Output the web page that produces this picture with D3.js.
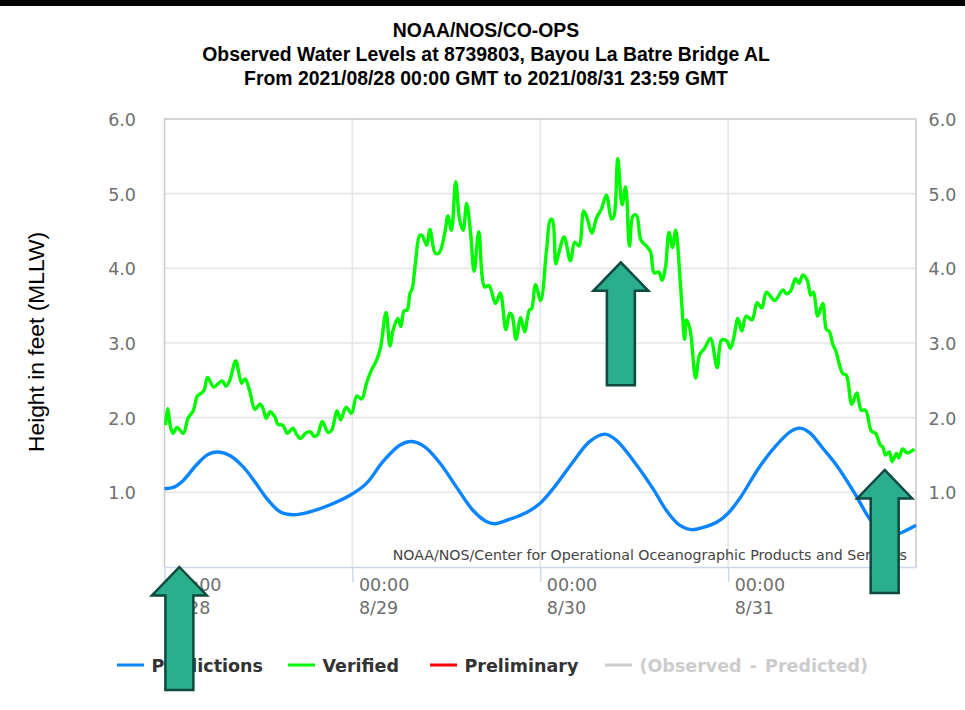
<!DOCTYPE html>
<html lang="en">
  <head>
    <meta charset="UTF-8" />
    <title>Observed Water Levels at 8739803, Bayou La Batre Bridge AL</title>
    <style>
      html, body { margin: 0; background: #fff; overflow: hidden; }
      svg { display: block; }
      .title { font: bold 19.4px 'Liberation Sans', sans-serif; fill: #000; text-anchor: middle; }
      .ylabel { font: 22.8px 'Liberation Sans', sans-serif; fill: #000; text-anchor: middle; }
      .tick text { font: 17.5px 'DejaVu Sans', sans-serif; fill: #6e6e6e; }
      .credit { font: 14.2px 'DejaVu Sans', sans-serif; fill: #444; text-anchor: end; }
      .legend text { font: bold 17.5px 'DejaVu Sans', sans-serif; fill: #333; }
    </style>
  </head>
  <body>
    <svg width="965" height="710"></svg>
    <script src="https://d3js.org/d3.v7.min.js"></script>
    <script>
      const titleLines = [
        'NOAA/NOS/CO-OPS',
        'Observed Water Levels at 8739803, Bayou La Batre Bridge AL',
        'From 2021/08/28 00:00 GMT to 2021/08/31 23:59 GMT'
      ];

      // hours since 8/28 00:00, water level in feet
      const predictedHours = [0, 1.2, 2.4, 4.1, 5.6, 6.9, 8.4, 10.05, 11.55, 13.05, 14.75, 16.45, 18.6, 21.1, 23.7, 25.8, 27.9, 30.05, 31.55, 33.25, 35.2, 37.3, 39.4, 41.1, 42.2, 44.1, 46.25, 47.95, 49.65, 52.2, 54.3, 56.25, 57.7, 59.85, 62.4, 64.1, 65.8, 67.3, 68.8, 70.7, 72, 73.5, 76, 78.15, 80.05, 81.15, 82.4, 84.1, 85.8, 88.15, 90.05, 91.35, 92.6, 93.9, 96];
      const predictedFeet = [1.05, 1.07, 1.16, 1.37, 1.51, 1.54, 1.49, 1.34, 1.14, 0.92, 0.74, 0.7, 0.74, 0.83, 0.96, 1.12, 1.41, 1.63, 1.68, 1.61, 1.39, 1.07, 0.76, 0.61, 0.58, 0.64, 0.73, 0.85, 1.05, 1.41, 1.68, 1.78, 1.7, 1.43, 1.05, 0.76, 0.56, 0.5, 0.53, 0.61, 0.72, 0.92, 1.34, 1.63, 1.82, 1.86, 1.8, 1.59, 1.37, 0.99, 0.65, 0.5, 0.41, 0.45, 0.56];

      const verifiedHours = [0.15, 0.4, 0.8, 1.1, 1.6, 2.4, 3, 3.7, 4.2, 4.75, 5.1, 5.5, 6.3, 6.9, 7.4, 7.85, 8.3, 9.1, 9.85, 10.3, 10.9, 11.55, 12.2, 12.6, 13, 13.5, 14.1, 14.5, 15.1, 15.7, 16.4, 16.9, 17.4, 18, 18.65, 19.1, 19.55, 20.15, 20.9, 21.35, 22.05, 22.5, 23.2, 23.9, 24.55, 25.2, 25.8, 26.45, 27.1, 27.6, 28.3, 28.8, 29.2, 29.8, 30.2, 30.6, 31, 31.35, 31.65, 32, 32.6, 32.9, 33.5, 33.9, 34.6, 35.1, 35.8, 36.2, 36.65, 37.2, 37.7, 38.15, 38.6, 39.1, 39.55, 40.15, 40.9, 41.45, 42.3, 42.9, 43.6, 44.1, 44.4, 44.9, 45.5, 46, 46.6, 46.9, 47.4, 48.05, 48.8, 49.3, 49.55, 50, 50.4, 51.05, 51.85, 52.4, 52.95, 53.55, 54, 54.6, 55.2, 55.8, 56.45, 57.1, 57.4, 57.9, 58.45, 58.9, 59.4, 59.85, 60.3, 60.85, 61.55, 62.1, 62.55, 63.15, 63.55, 64, 64.45, 64.9, 65.3, 65.9, 66.45, 66.65, 67.1, 67.85, 68.35, 69, 69.75, 70.6, 71.15, 71.8, 72.3, 72.7, 73.25, 73.75, 74.3, 75.05, 75.7, 76.3, 76.9, 77.95, 79, 79.45, 79.95, 80.6, 81.05, 81.55, 82.1, 82.55, 82.9, 83.45, 84.1, 84.55, 84.9, 85.4, 85.7, 86.65, 87.1, 87.8, 88.45, 89, 89.55, 90.3, 90.85, 91.45, 91.75, 92.1, 92.6, 92.95, 93.5, 93.8, 94.3, 94.85, 95.25, 95.8];
      const verifiedFeet = [1.9, 2.12, 1.86, 1.79, 1.87, 1.79, 1.99, 2.1, 2.29, 2.33, 2.38, 2.54, 2.41, 2.46, 2.49, 2.42, 2.49, 2.76, 2.46, 2.52, 2.35, 2.11, 2.18, 2.12, 1.99, 2.08, 2.01, 1.91, 1.9, 1.79, 1.86, 1.77, 1.72, 1.79, 1.81, 1.75, 1.77, 1.95, 1.8, 1.83, 2.09, 1.97, 2.14, 2.06, 2.29, 2.25, 2.46, 2.64, 2.77, 2.94, 3.41, 2.96, 3.17, 3.33, 3.22, 3.43, 3.44, 3.66, 3.73, 4.02, 4.44, 4.44, 4.31, 4.52, 4.2, 4.21, 4.47, 4.7, 4.51, 5.16, 4.65, 4.51, 4.87, 4.47, 3.96, 4.49, 3.75, 3.77, 3.53, 3.67, 3.18, 3.4, 3.37, 3.05, 3.34, 3.15, 3.44, 3.46, 3.78, 3.57, 4.24, 4.65, 4.65, 4.06, 4.22, 4.42, 4.1, 4.35, 4.3, 4.77, 4.67, 4.47, 4.68, 4.79, 4.98, 4.66, 4.69, 5.47, 4.85, 5.09, 4.3, 4.7, 4.71, 4.38, 4.3, 4.22, 3.94, 3.95, 3.84, 4.02, 4.48, 4.28, 4.51, 3.8, 3.05, 3.31, 3.2, 2.53, 2.84, 2.93, 3.06, 2.67, 3.04, 3.03, 2.93, 3.06, 3.33, 3.16, 3.36, 3.31, 3.54, 3.47, 3.68, 3.57, 3.71, 3.66, 3.69, 3.86, 3.8, 3.91, 3.84, 3.64, 3.68, 3.36, 3.53, 3.18, 3.16, 2.97, 2.91, 2.59, 2.57, 2.18, 2.33, 2.1, 2.1, 1.82, 1.79, 1.63, 1.61, 1.5, 1.54, 1.41, 1.52, 1.46, 1.58, 1.53, 1.54, 1.58];

      const levelTicks = [1, 2, 3, 4, 5, 6];
      const dayTicks = [0, 24, 48, 72];
      const dayLabels = ['8/28', '8/29', '8/30', '8/31'];

      const legendNames = ['Predictions', 'Verified', 'Preliminary', '(Observed - Predicted)'];
      const legendColors = ['#0a84ff', '#00fa00', '#ff0000', '#cccccc'];

      // where the arrow tips point
      const arrowHours = [1.9, 58.3, 92];
      const arrowFeet = [0, 4.08, 1.3];

      const svg = d3.select('svg');
      const x = d3.scaleLinear().domain([0, 96]).range([164.5, 916]);
      const y = d3.scaleLinear().domain([0, 6]).range([567, 119]);

      svg.append('rect').attr('width', 965).attr('height', 6).attr('fill', '#000');

      svg
        .selectAll('.title')
        .data(titleLines)
        .enter()
        .append('text')
        .attr('class', 'title')
        .attr('x', 486)
        .attr('y', (d, i) => 36.5 + i * 24.3)
        .text((d) => d);

      svg
        .append('text')
        .attr('class', 'ylabel')
        .attr('transform', 'translate(43.5,342) rotate(-90)')
        .text('Height in feet (MLLW)');

      // grid
      svg
        .append('g')
        .selectAll('line')
        .data(levelTicks)
        .enter()
        .append('line')
        .attr('x1', x(0))
        .attr('x2', x(96))
        .attr('y1', (d) => y(d))
        .attr('y2', (d) => y(d))
        .attr('stroke', '#e6e6e6')
        .attr('stroke-width', 1.6);

      svg
        .append('g')
        .selectAll('line')
        .data(dayTicks.slice(1))
        .enter()
        .append('line')
        .attr('x1', (d) => x(d))
        .attr('x2', (d) => x(d))
        .attr('y1', y(6))
        .attr('y2', y(0))
        .attr('stroke', '#e4e6ee')
        .attr('stroke-width', 1.6);

      // plot border
      svg
        .append('path')
        .attr('d', `M${x(0)},${y(0)}V${y(6)}H${x(96)}V${y(0)}`)
        .attr('fill', 'none')
        .attr('stroke', '#cccccc')
        .attr('stroke-width', 1.6);

      const yLeft = svg
        .append('g')
        .attr('transform', `translate(${x(0)},0)`)
        .call(d3.axisLeft(y).tickValues(levelTicks).tickFormat(d3.format('.1f')).tickSize(0).tickPadding(28.5));
      yLeft.select('.domain').remove();
      yLeft.selectAll('.tick text').attr('dy', '0.38em');

      const yRight = svg
        .append('g')
        .attr('transform', `translate(${x(96)},0)`)
        .call(d3.axisRight(y).tickValues(levelTicks).tickFormat(d3.format('.1f')).tickSize(0).tickPadding(12.5));
      yRight.select('.domain').remove();
      yRight.selectAll('.tick text').attr('dy', '0.38em');

      const xAxis = svg
        .append('g')
        .attr('transform', `translate(0,${y(0)})`)
        .call(d3.axisBottom(x).tickValues(dayTicks).tickSizeInner(15).tickSizeOuter(0).tickFormat(() => '00:00'));
      xAxis.select('.domain').attr('stroke', '#ccd6eb').attr('stroke-width', 1.4);
      xAxis.selectAll('.tick line').attr('stroke', '#ccd6eb').attr('stroke-width', 1.4);
      xAxis.selectAll('.tick text').attr('x', 6).attr('y', 24).attr('dy', 0).attr('text-anchor', 'start');
      xAxis
        .selectAll('.tick')
        .append('text')
        .attr('x', 6)
        .attr('y', 47)
        .attr('text-anchor', 'start')
        .text((d, i) => dayLabels[i]);

      const line = d3
        .line()
        .x((d) => x(d[0]))
        .y((d) => y(d[1]))
        .curve(d3.curveCatmullRom.alpha(0.5));

      svg
        .append('text')
        .attr('class', 'credit')
        .attr('x', 907)
        .attr('y', 560)
        .text('NOAA/NOS/Center for Operational Oceanographic Products and Services');

      svg
        .append('path')
        .attr('d', line(d3.zip(predictedHours, predictedFeet)))
        .attr('fill', 'none')
        .attr('stroke', legendColors[0])
        .attr('stroke-width', 3.4);

      svg
        .append('path')
        .attr('d', line(d3.zip(verifiedHours, verifiedFeet)))
        .attr('fill', 'none')
        .attr('stroke', legendColors[1])
        .attr('stroke-width', 3.4);

      // legend
      const legendLeft = [117, 288, 430, 605];
      const legend = svg
        .append('g')
        .attr('class', 'legend')
        .selectAll('g')
        .data(legendNames)
        .enter()
        .append('g')
        .attr('transform', (d, i) => `translate(${legendLeft[i]},665)`);
      legend
        .append('line')
        .attr('x2', 27)
        .attr('stroke', (d, i) => legendColors[i])
        .attr('stroke-width', 3);
      legend
        .append('text')
        .attr('x', 34.5)
        .attr('y', 6.5)
        .style('fill', (d, i) => (i === 3 ? '#cccccc' : null))
        .style('word-spacing', (d, i) => (i === 3 ? '2px' : null))
        .text((d) => d);

      // annotation arrows drawn over the chart
      const arrowShape = d3.line()([[0, 0], [27.5, 28.5], [14, 28.5], [14, 123], [-14, 123], [-14, 28.5], [-27.5, 28.5]]) + 'Z';
      svg
        .append('g')
        .selectAll('path')
        .data(d3.zip(arrowHours, arrowFeet))
        .enter()
        .append('path')
        .attr('d', arrowShape)
        .attr('transform', (d) => `translate(${x(d[0])},${y(d[1])})`)
        .attr('fill', '#2bae8c')
        .attr('stroke', '#0f4a3f')
        .attr('stroke-width', 2.5);
    </script>
  </body>
</html>
